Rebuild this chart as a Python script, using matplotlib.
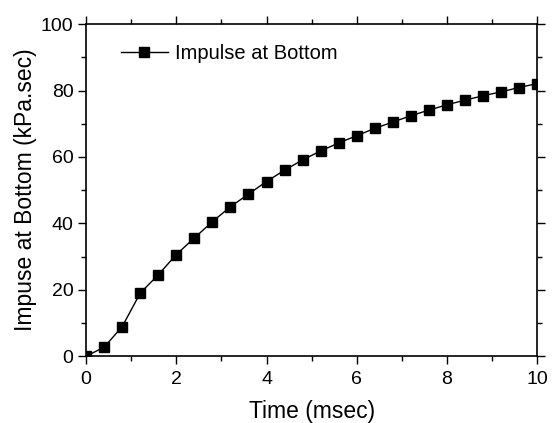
import numpy as np
import matplotlib
matplotlib.use("Agg")
import matplotlib.pyplot as plt
from matplotlib.ticker import MultipleLocator

plt.rcParams['font.family'] = ['Liberation Sans', 'DejaVu Sans']

# data
time_ms = [0.0, 0.4, 0.8, 1.2, 1.6, 2.0, 2.4, 2.8, 3.2, 3.6, 4.0, 4.4, 4.8,
           5.2, 5.6, 6.0, 6.4, 6.8, 7.2, 7.6, 8.0, 8.4, 8.8, 9.2, 9.6, 10.0]
impulse = [0.0, 2.7, 8.9, 19.0, 24.5, 30.6, 35.6, 40.5, 45.0, 48.8, 52.6,
           56.0, 59.1, 61.8, 64.2, 66.4, 68.6, 70.5, 72.4, 74.1, 75.7,
           77.1, 78.4, 79.6, 80.9, 82.1]

fig = plt.figure(figsize=(5.52, 4.23), dpi=100)
ax = fig.add_axes([0.156, 0.158, 0.817, 0.785])

ax.plot(time_ms, impulse, color="black", lw=1.0, marker="s", ms=7,
        label="Impulse at Bottom")

ax.set_xlim(0, 10)
ax.set_ylim(0, 100)
ax.xaxis.set_major_locator(MultipleLocator(2))
ax.xaxis.set_minor_locator(MultipleLocator(1))
ax.yaxis.set_major_locator(MultipleLocator(20))
ax.yaxis.set_minor_locator(MultipleLocator(10))
ax.tick_params(which="both", direction="out", top=True, right=True,
               labeltop=False, labelright=False, width=1.0)
ax.tick_params(which="major", length=6, labelsize=14)
ax.tick_params(axis="y", which="major", pad=3)
ax.tick_params(axis="x", which="major", pad=5)
ax.tick_params(which="minor", length=3.5)
for s in ax.spines.values():
    s.set_linewidth(1.2)

ax.set_xlabel("Time (msec)", fontsize=16.5, labelpad=8)
ax.set_ylabel("Impuse at Bottom (kPa.sec)", fontsize=16.5, labelpad=3)

ax.legend(loc="center left", frameon=False, fontsize=14.5,
          bbox_to_anchor=(0.078, 0.91), borderpad=0, borderaxespad=0,
          handlelength=2.3, handletextpad=0.35)

fig.savefig("out.png", dpi=100)
